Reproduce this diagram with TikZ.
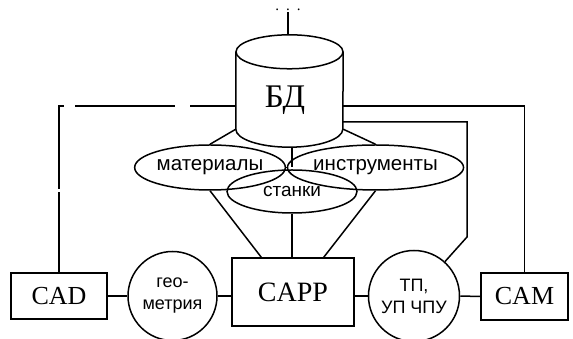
\documentclass[tikz,border=0pt]{standalone}
\usepackage{fontspec}
\setmainfont{Liberation Serif}
\newfontfamily\lblfont{Liberation Sans}
\usepackage{tikz}
\usetikzlibrary{shapes.geometric}
\tikzset{link/.style = {line width=1.5pt}}
\tikzset{sysbox/.style = {draw,link,inner sep=0pt,minimum width=#1,minimum height=46pt,font=\fontsize{26}{26}\selectfont}}
\tikzset{dataoval/.style = {draw,link,ellipse,inner sep=0pt,minimum width=130pt,minimum height=45pt,font=\lblfont\fontsize{20.5}{20}\selectfont}}
\tikzset{flowcirc/.style = {draw,link,circle,inner sep=0pt,minimum size=89pt,align=center,font=\lblfont\fontsize{18}{22}\selectfont}}
\NewDocumentCommand{\dbcylinder}{m}{%
\draw[link] ([yshift=-17pt]#1.north) ellipse [x radius=53.5pt, y radius=17pt];
\draw[link] ([yshift=-17pt]#1.north west) -- ([yshift=18pt]#1.south west)
  arc[start angle=180, end angle=360, x radius=53.5pt, y radius=18pt] -- ([yshift=-17pt]#1.north east);
}

\begin{document}
\begin{tikzpicture}[x=1pt,y=1pt]
\useasboundingbox (0,0) rectangle (573,339);
\node[inner sep=1pt,font=\fontsize{15}{15}\selectfont] (more) at (288,329) {.\hspace{7pt}.\hspace{7pt}.};
\node[inner sep=0pt,minimum width=107pt,minimum height=112pt] (db) at (289.5,248) {};
\node[font=\fontsize{33}{33}\selectfont] (dbname) at (285,239) {БД};
\dbcylinder{db}

\node[dataoval] (mat) at (210,171.5) {материалы};
\node[dataoval,minimum width=129pt] (tool) at (375.5,171.5) {инструменты};
\node[dataoval,minimum height=43pt,font=\lblfont\fontsize{19}{19}\selectfont] (mach) at (292,147.5) {станки};

\node[sysbox=96pt] (cad) at (59,43) {CAD};
\node[flowcirc] (geo) at (172.5,43) {гео-\\метрия};
\node[sysbox=122pt,minimum height=68pt,font=\fontsize{28}{28}\selectfont] (capp) at (293,47) {CAPP};
\node[flowcirc,minimum size=91pt] (tp) at (414,43) {ТП,\\УП ЧПУ};
\node[sysbox=87pt,minimum height=47pt] (cam) at (524.5,42.5) {CAM};

% top
\draw[link] (more.south) -- (more.south |- db.north);
\draw[link,dash pattern=on 46pt off 15pt on 100pt off 11pt on 88pt off 3pt on 200pt]
  (db.west |- 0,233) -- (cad.north |- 0,233) -- (cad.north);
\draw[link] (db.east |- 0,233) -- (cam.north |- 0,233) -- (cam.north);
\draw[link] (db.east |- 0,217) -- (467,217) -- (467,102) -- (tp.48);

% data
\draw[link] ([yshift=18pt]db.south west) -- (mat.north);
\draw[link] ([yshift=18pt]db.south east) -- (tool.north);
\draw[link] (mach.north |- db.south) -- (mach.north |- mat.east);
\draw[link] (mat.east) -- (tool.west);
\draw[link] (mat.south) -- ([xshift=30pt]capp.north west);
\draw[link] (tool.south) -- ([xshift=-31pt]capp.north east);
\draw[link] (mach.south) -- (mach.south |- capp.north);

% chain
\draw[link] (cad) -- (geo);
\draw[link] (geo) -- (geo -| capp.west);
\draw[link] (capp.east |- tp) -- (tp);
\draw[link] (tp) -- (cam);
\end{tikzpicture}
\end{document}
